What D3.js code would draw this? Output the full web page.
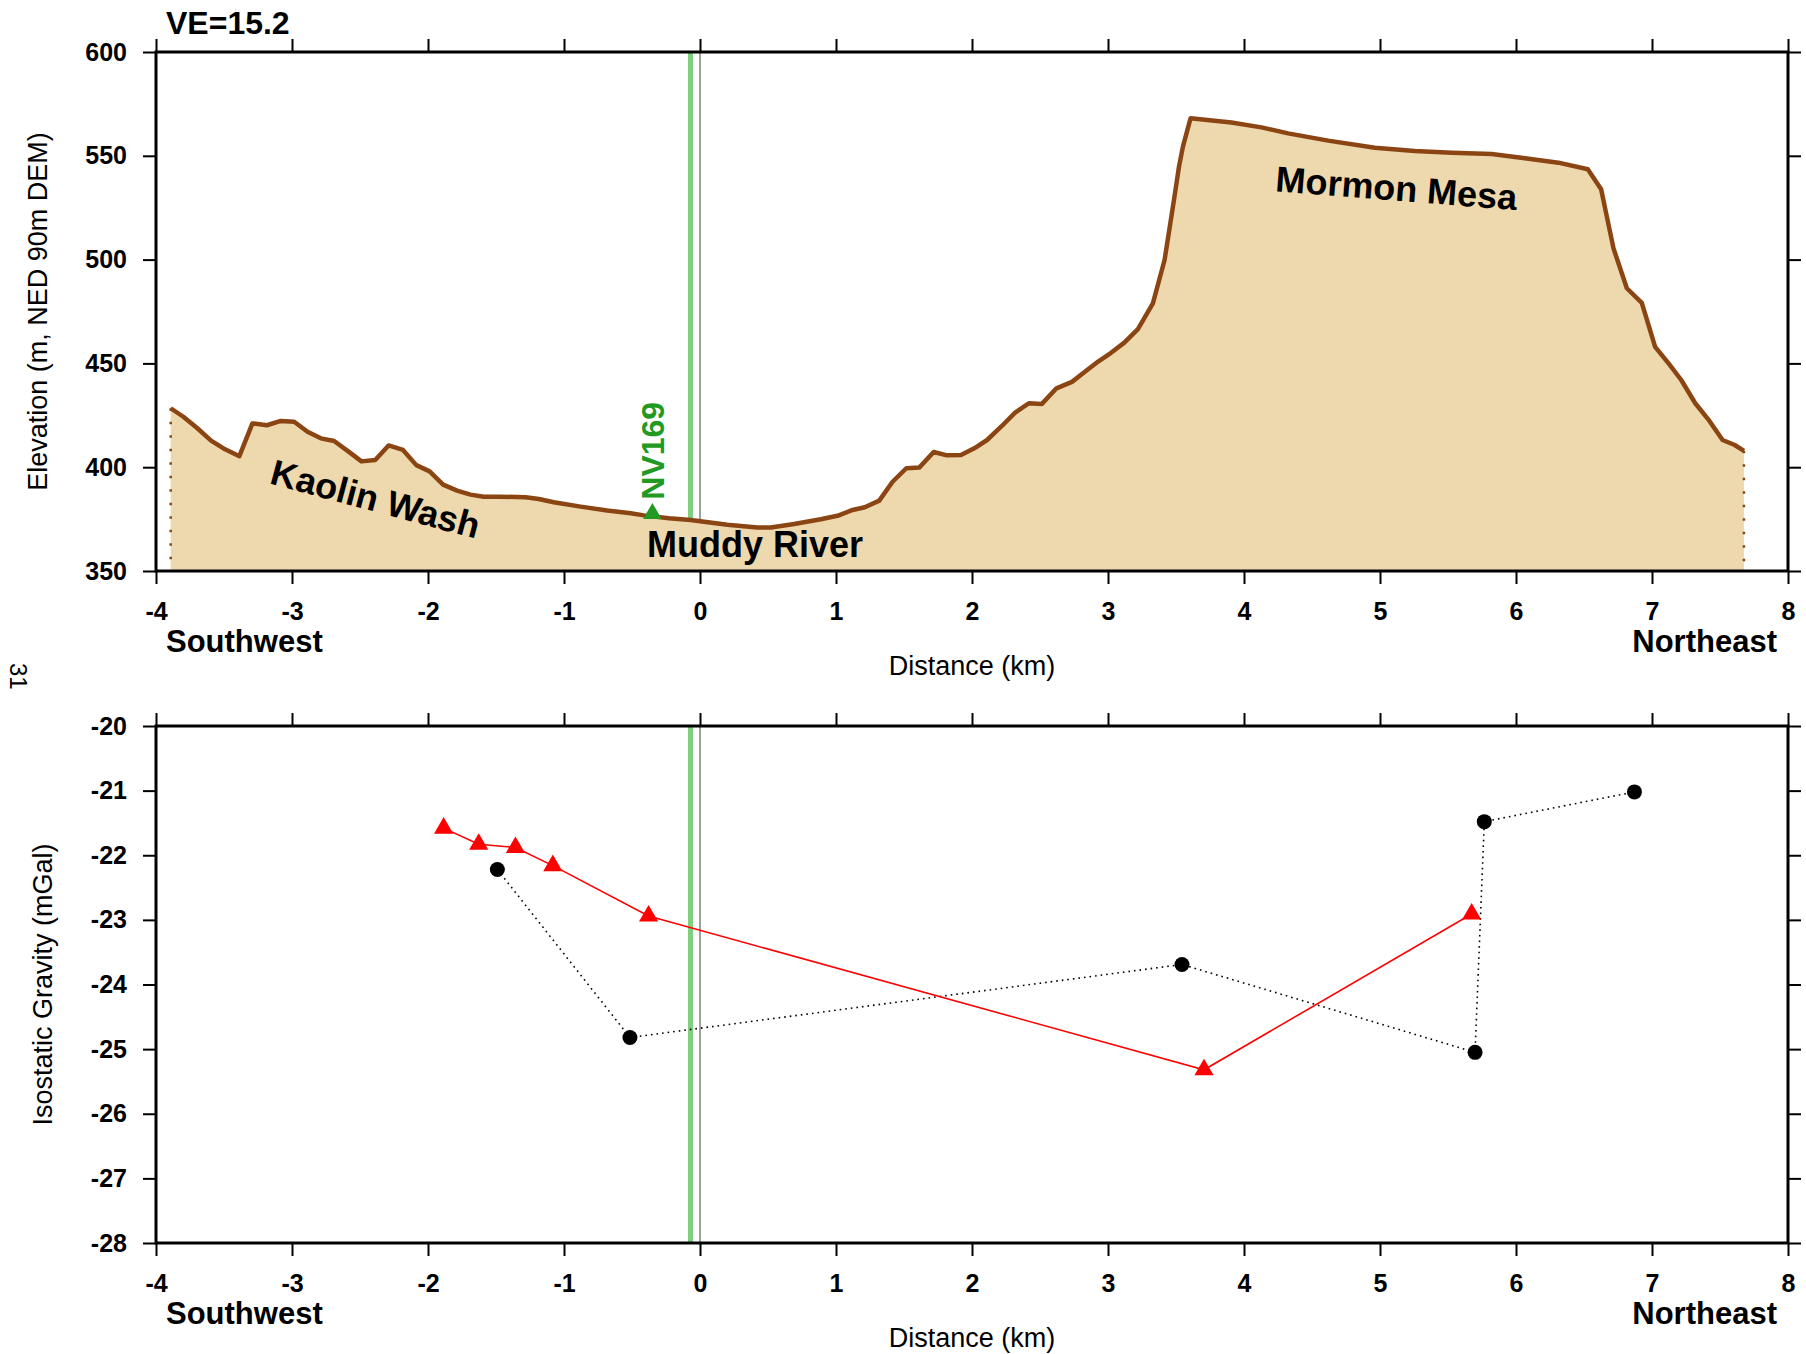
<!DOCTYPE html>
<html>
<head>
<meta charset="utf-8">
<script src="https://cdn.jsdelivr.net/npm/d3@7"></script>
<style>
body { margin: 0; background: #fff; }
text { font-family: "Liberation Sans", Arial, Helvetica, sans-serif; }
</style>
</head>
<body>
<svg id="chart" width="1806" height="1354"></svg>
<script>
// elevation profile along the section
var profileKm = [-3.892, -3.799, -3.700, -3.595, -3.492, -3.387, -3.291, -3.185, -3.082, -2.984,
  -2.886, -2.788, -2.690, -2.584, -2.489, -2.388, -2.290, -2.184, -2.086, -1.988,
  -1.889, -1.786, -1.688, -1.590, -1.467, -1.283, -1.185, -1.075, -0.878, -0.682,
  -0.510, -0.412, -0.228, -0.069, 0.201, 0.422, 0.520, 0.692, 0.888, 1.011,
  1.122, 1.212, 1.318, 1.416, 1.517, 1.612, 1.718, 1.816, 1.919, 2.017,
  2.111, 2.214, 2.317, 2.418, 2.514, 2.621, 2.735, 2.830, 2.930, 3.020,
  3.120, 3.220, 3.330, 3.416, 3.485, 3.522, 3.551, 3.607, 3.907, 4.128,
  4.324, 4.619, 4.962, 5.256, 5.527, 5.821, 6.066, 6.312, 6.528, 6.626,
  6.668, 6.717, 6.815, 6.925, 7.023, 7.122, 7.215, 7.318, 7.421, 7.519,
  7.608, 7.676];
var profileElev = [428.4, 424.3, 419.0, 412.8, 408.6, 405.3, 421.1, 420.2, 422.3, 421.9,
  417.1, 413.9, 412.6, 407.5, 402.8, 403.5, 410.5, 408.3, 401.0, 398.0,
  391.6, 388.7, 386.8, 385.8, 385.8, 385.5, 384.7, 383.1, 381.0, 379.1,
  377.8, 376.8, 375.4, 374.6, 372.3, 371.0, 371.0, 372.6, 374.9, 376.6,
  379.4, 380.7, 383.9, 393.0, 399.5, 399.8, 407.3, 405.7, 405.9, 409.1,
  413.1, 419.5, 426.3, 430.8, 430.5, 438.0, 441.1, 446.0, 451.0, 455.0,
  460.0, 466.5, 478.9, 499.8, 528.7, 544.8, 554.4, 568.1, 566.0, 563.7,
  560.8, 557.3, 553.9, 552.3, 551.5, 550.9, 548.8, 546.7, 543.5, 533.9,
  520.7, 505.4, 486.2, 479.2, 458.0, 450.0, 442.0, 430.8, 422.4, 413.1,
  410.7, 407.9];

// gravity stations: red triangles (solid line), black circles (dotted line)
var triKm = [-1.885, -1.627, -1.357, -1.082, -0.378, 3.706, 5.674];
var triGrav = [-21.58, -21.83, -21.88, -22.16, -22.94, -25.32, -22.91];
var dotKm = [-1.490, -0.515, 3.544, 5.699, 5.767, 6.871];
var dotGrav = [-22.22, -24.82, -23.69, -25.05, -21.48, -21.02];

var markerKm = -0.07;        // green line
var stationName = "NV169";
var stationKm = -0.35, stationElev = 377.6;

var placeNames = ["Kaolin Wash", "Muddy River", "Mormon Mesa"];
var placeKm = [-2.41, 0.405, 5.114];
var placeElev = [378.9, 356.9, 528.4];
var placeAngle = [15, 0, 4.5];

var xTicks = d3.range(-4, 9);
var elevTicks = [350, 400, 450, 500, 550, 600];
var gravTicks = d3.range(-28, -19);

var svg = d3.select("#chart");
var left = 156, right = 1788;
var x = d3.scaleLinear().domain([-4, 8]).range([left, right]);
var yElev = d3.scaleLinear().domain([350, 600]).range([571, 52]);
var yGrav = d3.scaleLinear().domain([-28, -20]).range([1243, 726]);

var brown = "#8b4513", sand = "#eed8ad", lightGreen = "#7fcf7f";
var plain = function (d) { return String(d); };   // keep ascii hyphen

function axes(y, ticks) {
  var y0 = y.range()[1], y1 = y.range()[0];
  var g = svg.append("g");
  function style(a) {
    a.select(".domain").remove();
    a.selectAll("line").attr("stroke", "#000").attr("stroke-width", 2);
    a.attr("font-family", null).attr("font-size", 25).attr("font-weight", "bold");
    a.selectAll("text").attr("fill", "#000");
  }
  g.append("g").attr("transform", "translate(0," + y1 + ")")
    .call(d3.axisBottom(x).tickValues(xTicks).tickSize(13).tickPadding(18).tickFormat(plain))
    .call(style);
  g.append("g").attr("transform", "translate(0," + y0 + ")")
    .call(d3.axisTop(x).tickValues(xTicks).tickSize(13).tickFormat(""))
    .call(style);
  g.append("g").attr("transform", "translate(" + left + ",0)")
    .call(d3.axisLeft(y).tickValues(ticks).tickSize(13).tickPadding(16).tickFormat(plain))
    .call(style);
  g.append("g").attr("transform", "translate(" + right + ",0)")
    .call(d3.axisRight(y).tickValues(ticks).tickSize(13).tickFormat(""))
    .call(style);
  g.append("rect")
    .attr("x", left).attr("y", y0)
    .attr("width", right - left).attr("height", y1 - y0)
    .attr("fill", "none").attr("stroke", "#000").attr("stroke-width", 3);

  g.append("text").attr("x", x(-4) + 10).attr("y", y1 + 81)
    .attr("font-size", 31).attr("font-weight", "bold").text("Southwest");
  g.append("text").attr("x", x(8) - 11).attr("y", y1 + 81)
    .attr("text-anchor", "end").attr("font-size", 31).attr("font-weight", "bold").text("Northeast");
  g.append("text").attr("x", (left + right) / 2).attr("y", y1 + 104)
    .attr("text-anchor", "middle").attr("font-size", 27).text("Distance (km)");
}

function refLines(y) {
  var y0 = y.range()[1], y1 = y.range()[0];
  svg.append("line").attr("x1", x(markerKm)).attr("x2", x(markerKm))
    .attr("y1", y0).attr("y2", y1).attr("stroke", lightGreen).attr("stroke-width", 5);
  svg.append("line").attr("x1", x(0)).attr("x2", x(0))
    .attr("y1", y0).attr("y2", y1).attr("stroke", "#808080").attr("stroke-width", 1.5);
}

// ---- top panel: topography ----
var profile = profileKm.map(function (d, i) { return [d, profileElev[i]]; });
refLines(yElev);

svg.append("path").datum(profile)
  .attr("fill", sand)
  .attr("d", d3.area().x(function (d) { return x(d[0]); })
    .y0(yElev(350)).y1(function (d) { return yElev(d[1]); }));

[profile[0], profile[profile.length - 1]].forEach(function (p) {
  svg.append("line").attr("x1", x(p[0])).attr("x2", x(p[0]))
    .attr("y1", yElev(p[1])).attr("y2", yElev(350))
    .attr("stroke", brown).attr("stroke-width", 2.5).attr("stroke-dasharray", "2.5,11");
});

svg.append("path").datum(profile)
  .attr("fill", "none").attr("stroke", brown).attr("stroke-width", 4.5)
  .attr("stroke-linejoin", "round")
  .attr("d", d3.line().x(function (d) { return x(d[0]); }).y(function (d) { return yElev(d[1]); }));

placeNames.forEach(function (name, i) {
  var px = x(placeKm[i]), py = yElev(placeElev[i]);
  svg.append("text")
    .attr("transform", "translate(" + px + "," + py + ") rotate(" + placeAngle[i] + ")")
    .attr("text-anchor", "middle").attr("font-size", 36).attr("font-weight", "bold")
    .text(name);
});

svg.append("path")
  .attr("transform", "translate(" + x(stationKm) + "," + yElev(stationElev) + ")")
  .attr("d", d3.symbol().type(d3.symbolTriangle).size(150)())
  .attr("fill", "#229a22");
svg.append("text")
  .attr("transform", "translate(" + (x(stationKm) + 12) + "," + (yElev(stationElev) - 14) + ") rotate(-90)")
  .attr("font-size", 32).attr("font-weight", "bold").attr("fill", "#229a22")
  .text(stationName);

axes(yElev, elevTicks);

svg.append("text").attr("x", 166).attr("y", 34)
  .attr("font-size", 32).attr("font-weight", "bold").text("VE=15.2");
svg.append("text")
  .attr("transform", "translate(47," + (yElev(475)) + ") rotate(-90)")
  .attr("text-anchor", "middle").attr("font-size", 27)
  .text("Elevation (m, NED 90m DEM)");

// ---- bottom panel: gravity ----
refLines(yGrav);

var dots = dotKm.map(function (d, i) { return [d, dotGrav[i]]; });
var tris = triKm.map(function (d, i) { return [d, triGrav[i]]; });
var gLine = d3.line().x(function (d) { return x(d[0]); }).y(function (d) { return yGrav(d[1]); });

svg.append("path").datum(dots).attr("d", gLine)
  .attr("fill", "none").attr("stroke", "#000").attr("stroke-width", 1.6)
  .attr("stroke-dasharray", "1.6,4");
svg.append("path").datum(tris).attr("d", gLine)
  .attr("fill", "none").attr("stroke", "#ff0000").attr("stroke-width", 1.6);

svg.selectAll("circle.grav").data(dots).enter().append("circle")
  .attr("class", "grav")
  .attr("cx", function (d) { return x(d[0]); })
  .attr("cy", function (d) { return yGrav(d[1]); })
  .attr("r", 7.5).attr("fill", "#000");
svg.selectAll("path.tri").data(tris).enter().append("path")
  .attr("class", "tri")
  .attr("transform", function (d) { return "translate(" + x(d[0]) + "," + yGrav(d[1]) + ")"; })
  .attr("d", d3.symbol().type(d3.symbolTriangle).size(160)())
  .attr("fill", "#ff0000");

axes(yGrav, gravTicks);

svg.append("text")
  .attr("transform", "translate(52," + yGrav(-24) + ") rotate(-90)")
  .attr("text-anchor", "middle").attr("font-size", 27)
  .text("Isostatic Gravity (mGal)");

// page number in the margin
svg.append("text")
  .attr("transform", "translate(10,663) rotate(90)")
  .attr("font-family", "Liberation Serif, Times New Roman, serif")
  .attr("font-size", 24).text("31");
</script>
</body>
</html>
